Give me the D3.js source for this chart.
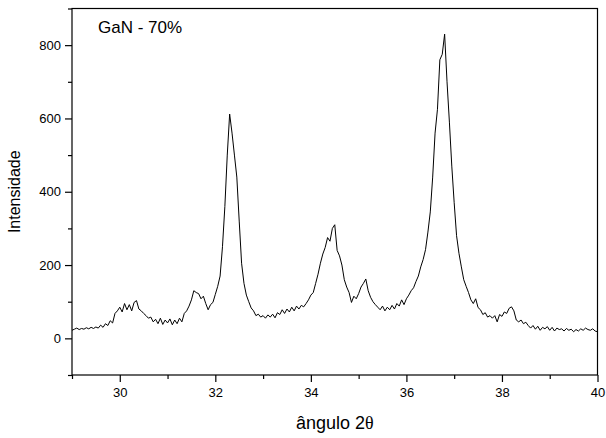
<!DOCTYPE html>
<html>
<head>
<meta charset="utf-8">
<title>GaN - 70%</title>
<script src="https://d3js.org/d3.v7.min.js"></script>
<style>
  body { margin: 0; background: #fff; }
  text { font-family: Arial, "Liberation Sans", sans-serif; fill: #000; }
  .axis path.domain { display: none; }
  .axis line { stroke: #000; stroke-width: 1.2px; }
  .frame { fill: none; stroke: #000; stroke-width: 1.2px; }
  .trace { fill: none; stroke: #000; stroke-width: 1px; stroke-linejoin: round; }
</style>
</head>
<body>
<div id="chart"></div>
<script>
  // difratograma GaN 70%: intensidade lida a cada 0.05 graus, de 29 a 40
  var angleStart = 29, angleStep = 0.05;
  var intensity = [
    22,25,28,24,27,25,29,26,30,27,31,28,36,30,40,35,48,42,68,75,            // 29
    85,72,95,78,92,75,98,103,80,75,68,62,55,58,45,52,40,55,38,50,           // 30
    42,53,37,50,40,55,45,68,75,88,105,130,125,122,108,115,95,78,92,98,      // 31
    120,142,170,250,360,500,612,560,500,440,320,205,150,118,100,83,75,62,66,58, // 32
    62,55,64,58,66,56,70,65,78,68,80,72,85,75,88,80,90,86,95,105,           // 33
    118,125,150,175,205,230,248,275,265,300,310,240,225,200,160,140,125,98,115,108, // 34
    122,140,150,162,130,112,100,92,85,78,88,75,85,78,90,80,95,88,105,92,    // 35
    108,118,130,138,155,170,195,215,242,290,345,440,560,625,760,775,830,700,590,470, // 36
    370,280,232,195,160,142,125,105,95,108,84,78,65,70,58,62,55,62,45,65,   // 37
    60,72,68,82,86,75,50,45,50,40,44,35,28,35,25,33,22,30,26,32,            // 38
    22,30,20,28,24,26,20,27,22,25,18,24,20,26,22,28,24,22,26,20,            // 39
    18                                                                       // 40
  ];

  var xTicks = [30, 32, 34, 36, 38, 40];
  var xMinor = [29, 31, 33, 35, 37, 39];
  var yTicks = [0, 200, 400, 600, 800];
  var yMinor = [-100, 100, 300, 500, 700, 900];

  (function() {
    var width = 606, height = 438;
    var mLeft = 72, mRight = 597.5, mTop = 8.5, mBottom = 375;

    var data = intensity.map(function(v, i) {
      return { x: angleStart + i * angleStep, y: v };
    });

    var x = d3.scaleLinear().domain([29, 40]).range([mLeft, mRight]);
    var y = d3.scaleLinear().domain([-100, 900]).range([mBottom, mTop]);

    var svg = d3.select("#chart").append("svg")
      .attr("width", width).attr("height", height);

    // eixos: ticks maiores com texto, menores sem
    svg.append("g").attr("class", "axis")
      .attr("transform", "translate(0," + mBottom + ")")
      .call(d3.axisBottom(x).tickValues(xTicks).tickSize(7).tickPadding(6).tickFormat(d3.format("d")))
      .attr("font-size", 13).attr("font-family", "Arial, 'Liberation Sans', sans-serif");
    svg.append("g").attr("class", "axis")
      .attr("transform", "translate(0," + mBottom + ")")
      .call(d3.axisBottom(x).tickValues(xMinor).tickSize(4).tickFormat(""));

    svg.append("g").attr("class", "axis")
      .attr("transform", "translate(" + mLeft + ",0)")
      .call(d3.axisLeft(y).tickValues(yTicks).tickSize(7).tickPadding(4).tickFormat(d3.format("d")))
      .attr("font-size", 13).attr("font-family", "Arial, 'Liberation Sans', sans-serif");
    svg.append("g").attr("class", "axis")
      .attr("transform", "translate(" + mLeft + ",0)")
      .call(d3.axisLeft(y).tickValues(yMinor).tickSize(4).tickFormat(""));

    svg.append("rect").attr("class", "frame")
      .attr("x", mLeft).attr("y", mTop)
      .attr("width", mRight - mLeft).attr("height", mBottom - mTop);

    var line = d3.line()
      .x(function(d) { return x(d.x); })
      .y(function(d) { return y(d.y); });

    svg.append("path").datum(data)
      .attr("class", "trace")
      .attr("d", line);

    svg.append("text")
      .attr("x", 98).attr("y", 33)
      .style("font-size", "17px")
      .text("GaN - 70%");

    var xl = svg.append("text")
      .attr("x", (mLeft + mRight) / 2).attr("y", 429)
      .attr("text-anchor", "middle")
      .style("font-size", "18px");
    xl.append("tspan").text("ângulo 2");
    xl.append("tspan").style("font-family", "'Liberation Serif', 'DejaVu Serif', serif").text("θ");

    svg.append("text")
      .attr("transform", "translate(20," + (mTop + mBottom) / 2 + ")rotate(-90)")
      .attr("text-anchor", "middle")
      .style("font-size", "16px")
      .text("Intensidade");
  })();
</script>
</body>
</html>
